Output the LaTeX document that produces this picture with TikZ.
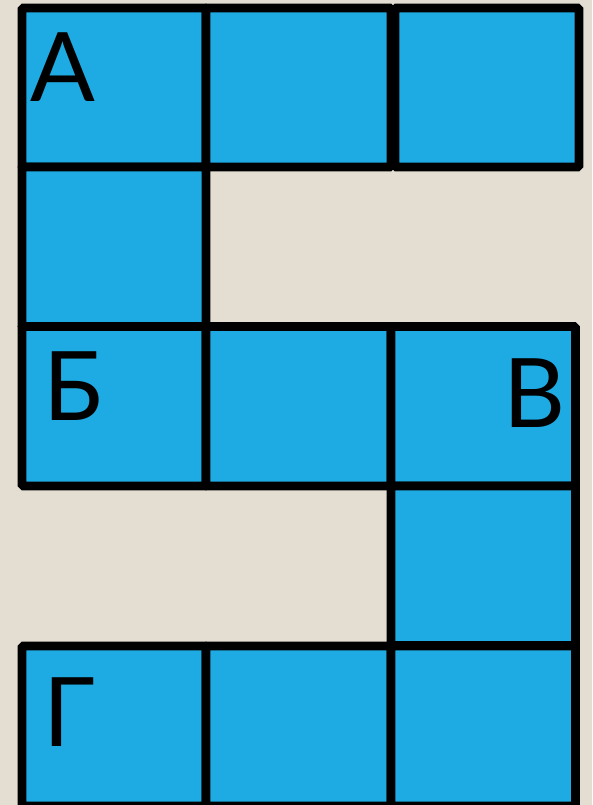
\documentclass[tikz,border=0pt]{standalone}
\usepackage{fontspec}
\setmainfont{Lato}
\definecolor{bg}{RGB}{227,221,210}
\definecolor{cellblue}{RGB}{30,170,226}
\begin{document}
\begin{tikzpicture}[x=1pt,y=-1pt,
  cell/.style={fill=cellblue,draw=black,line width=8.6pt,rounded corners=1.5pt},
  letter/.style={inner sep=0pt,font=\fontsize{96}{96}\selectfont,anchor=base west}]
\useasboundingbox (0,0) rectangle (592,805);
\fill[bg] (0,0) rectangle (592,805);
\begin{scope}
\clip (0,0) rectangle (592,805);
% row 1
\draw[cell] (22,8) rectangle (206,167);
\draw[cell] (206,8) rectangle (391,167);
\draw[cell] (395,8) rectangle (579,167);
% row 2
\draw[cell] (22,167) rectangle (206,326.5);
% row 3
\draw[cell] (22,326.5) rectangle (206,486);
\draw[cell] (206,326.5) rectangle (391,486);
\draw[cell] (391,326.5) rectangle (575.5,486);
% row 3.5
\draw[cell] (391,486) rectangle (575.5,645.5);
% row 4
\draw[cell] (22,646) rectangle (206,806);
\draw[cell] (206,646) rectangle (391,806);
\draw[cell] (391,646) rectangle (575.5,806);
\end{scope}
\node[letter] (a) at (30.5,101.7) {А};
\node[letter] (b) at (43,420.7) {Б};
\node[letter] (v) at (503,427) {В};
\node[letter] (g) at (43,746) {Г};
\end{tikzpicture}
\end{document}
